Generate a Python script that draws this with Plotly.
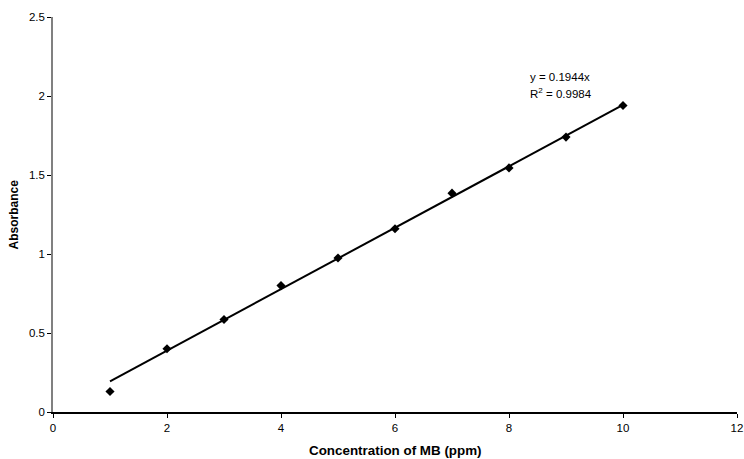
import plotly.graph_objects as go

conc = [1, 2, 3, 4, 5, 6, 7, 8, 9, 10]
absorbance = [0.13, 0.40, 0.585, 0.80, 0.975, 1.16, 1.385, 1.545, 1.74, 1.94]
slope = 0.1944
fit_x = [1, 10]
x_ticks = [0, 2, 4, 6, 8, 10, 12]
y_ticks = [0, 0.5, 1, 1.5, 2, 2.5]
y_tick_labels = ["0", "0.5", "1", "1.5", "2", "2.5"]

font = "Liberation Sans, Arial, sans-serif"

fig = go.Figure()
fig.add_trace(go.Scatter(
    x=fit_x, y=[slope * v for v in fit_x], mode="lines",
    line=dict(color="black", width=2), showlegend=False, hoverinfo="skip"))
fig.add_trace(go.Scatter(
    x=conc, y=absorbance, mode="markers",
    marker=dict(symbol="diamond", size=7, color="black"), showlegend=False))

fig.add_annotation(x=8.33, y=2.12, xref="x", yref="y", xanchor="left", yanchor="middle",
                   text="y = 0.1944x", showarrow=False,
                   font=dict(family=font, size=11.5, color="black"))
fig.add_annotation(x=8.33, y=2.02, xref="x", yref="y", xanchor="left", yanchor="middle",
                   text="R<sup>2</sup> = 0.9984", showarrow=False,
                   font=dict(family=font, size=11.5, color="black"))

# axis titles
fig.add_annotation(x=0.5, y=-0.0, xref="paper", yref="paper", xanchor="center", yanchor="top",
                   yshift=-29, text="<b>Concentration of MB (ppm)</b>", showarrow=False,
                   font=dict(family=font, size=13.4, color="black"))
fig.add_annotation(x=0, y=0.5, xref="paper", yref="paper", xanchor="right", yanchor="middle",
                   xshift=-31, text="<b>Absorbance</b>", showarrow=False, textangle=-90,
                   font=dict(family=font, size=12, color="black"))

fig.update_layout(
    width=744, height=459,
    margin=dict(l=53, r=7, t=17, b=47),
    paper_bgcolor="white", plot_bgcolor="white",
    font=dict(family=font, size=11.5, color="black"),
    xaxis=dict(range=[0, 12], tickvals=x_ticks, showgrid=False, zeroline=False,
               showline=True, linecolor="black", linewidth=1.5, automargin=False,
               ticks="outside", ticklen=4, tickcolor="black"),
    yaxis=dict(range=[0, 2.5], tickvals=y_ticks, ticktext=y_tick_labels, showgrid=False,
               zeroline=False, showline=True, linecolor="#808080", linewidth=1.5,
               automargin=False, ticks="outside", ticklen=4, tickcolor="black"),
)

fig.write_html("out.html")
